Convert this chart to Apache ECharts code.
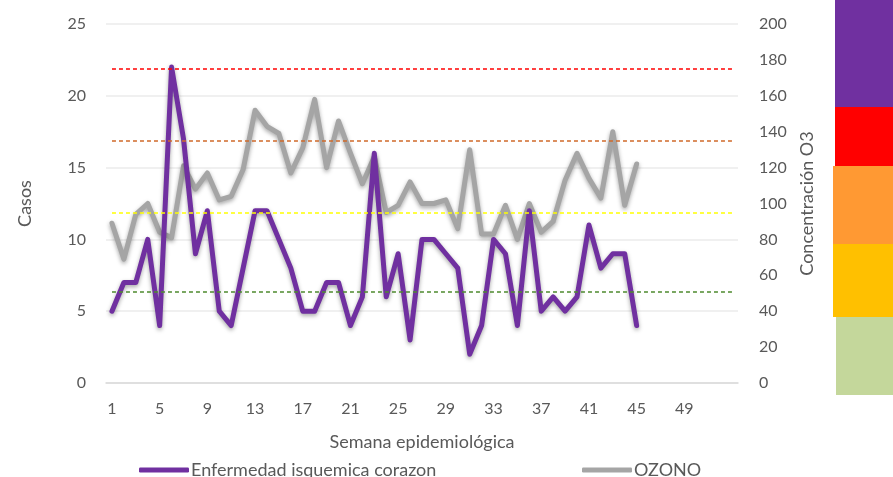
<!DOCTYPE html>
<html>
<head>
<meta charset="utf-8">
<script src="https://cdn.jsdelivr.net/npm/echarts@6/dist/echarts.min.js"></script>
<style>
html,body{margin:0;padding:0;background:#fff;}
#c{width:893px;height:477px;}
</style>
</head>
<body>
<div id="c"></div>
<script>
const weeks = Array.from({length: 53}, (_, i) => String(i + 1));
const tickLabels = ['1','5','9','13','17','21','25','29','33','37','41','45','49'];
const casos = [5,7,7,10,4,22,17,9,12,5,4,8,12,12,10,8,5,5,7,7,4,6,16,6,9,3,10,10,9,8,2,4,10,9,4,12,5,6,5,6,11,8,9,9,4];
const ozono = [89,69,94,100,84,81,121,108,117,102,104,119,152,143,139,117,131,158,120,146,128,111,126,95,99,112,100,100,102,86,130,83,83,99,80,100,84,90,113,128,114,103,140,99,122];
const thresholds = [175,135,95,51];
const thresholdColors = ['#FF0000','#D0692A','#FFFF00','#4E8A2E'];
const seriesNames = ['Enfermedad isquemica corazon','OZONO'];

const font = 'Lato, "Open Sans", sans-serif';
const txt = '#595959';

const markData = thresholds.map((v, i) => [
  {xAxis: 0, yAxis: v, lineStyle: {color: thresholdColors[i]}},
  {xAxis: weeks.length - 1, yAxis: v}
]);

const chart = echarts.init(document.getElementById('c'), null, {renderer: 'canvas'});
chart.setOption({
  animation: false,
  textStyle: {fontFamily: font},
  grid: {left: 106, right: 155, top: 24, bottom: 94, containLabel: false},
  legend: [
    {data: [seriesNames[0]], left: 134, top: 456, itemWidth: 50, itemHeight: 5, icon: 'roundRect',
     textStyle: {fontFamily: font, fontSize: 18, color: txt, padding: [0, 0, 0, -3]}},
    {data: [seriesNames[1]], left: 577, top: 456, itemWidth: 50, itemHeight: 5, icon: 'roundRect',
     textStyle: {fontFamily: font, fontSize: 18, color: txt, padding: [0, 0, 0, -3]}}
  ],
  xAxis: {
    type: 'category', data: weeks, boundaryGap: true,
    name: 'Semana epidemiológica', nameLocation: 'middle', nameGap: 50,
    nameTextStyle: {fontFamily: font, fontSize: 18, color: txt},
    axisLine: {lineStyle: {color: '#d9d9d9', width: 1.5}},
    axisTick: {show: false},
    axisLabel: {interval: (i, v) => tickLabels.includes(v), margin: 18, fontFamily: font, fontSize: 16, color: txt}
  },
  yAxis: [
    {type: 'value', min: 0, max: 25, interval: 5,
     name: 'Casos', nameLocation: 'middle', nameGap: 72,
     nameTextStyle: {fontFamily: font, fontSize: 18, color: txt},
     axisLine: {show: false}, axisTick: {show: false},
     axisLabel: {margin: 20, fontFamily: font, fontSize: 16, color: txt},
     splitLine: {lineStyle: {color: '#ebebeb', width: 1.5}}},
    {type: 'value', min: 0, max: 200, interval: 20,
     name: 'Concentración O3', nameLocation: 'middle', nameGap: 60,
     nameTextStyle: {fontFamily: font, fontSize: 18, color: txt},
     axisLine: {show: false}, axisTick: {show: false},
     axisLabel: {margin: 21, fontFamily: font, fontSize: 16, color: txt},
     splitLine: {show: false}}
  ],
  series: [
    {name: seriesNames[1], type: 'line', yAxisIndex: 1, data: ozono, showSymbol: false, symbol: 'none',
     itemStyle: {color: '#A5A5A5'},
     lineStyle: {color: '#A5A5A5', width: 5, shadowBlur: 4, shadowColor: 'rgba(0,0,0,0.35)', shadowOffsetY: 2, cap: 'round', join: 'round'},
     markLine: {silent: true, symbol: 'none', label: {show: false},
       lineStyle: {type: [4, 3], width: 1.5}, data: markData}},
    {name: seriesNames[0], type: 'line', yAxisIndex: 0, data: casos, showSymbol: false, symbol: 'none',
     itemStyle: {color: '#7030A0'},
     lineStyle: {color: '#7030A0', width: 5, shadowBlur: 4, shadowColor: 'rgba(0,0,0,0.35)', shadowOffsetY: 2, cap: 'round', join: 'round'}}
  ],
  graphic: [
    {type: 'rect', shape: {x: 835, y: 0, width: 58, height: 107}, style: {fill: '#7030A0'}},
    {type: 'rect', shape: {x: 835, y: 107, width: 58, height: 64}, style: {fill: '#FF0000'}},
    {type: 'rect', shape: {x: 833, y: 166, width: 60, height: 78}, style: {fill: '#FF9933'}},
    {type: 'rect', shape: {x: 833, y: 244, width: 60, height: 73}, style: {fill: '#FFC000'}},
    {type: 'rect', shape: {x: 836, y: 317, width: 57, height: 78}, style: {fill: '#C4D79B'}}
  ]
});
</script>
</body>
</html>
